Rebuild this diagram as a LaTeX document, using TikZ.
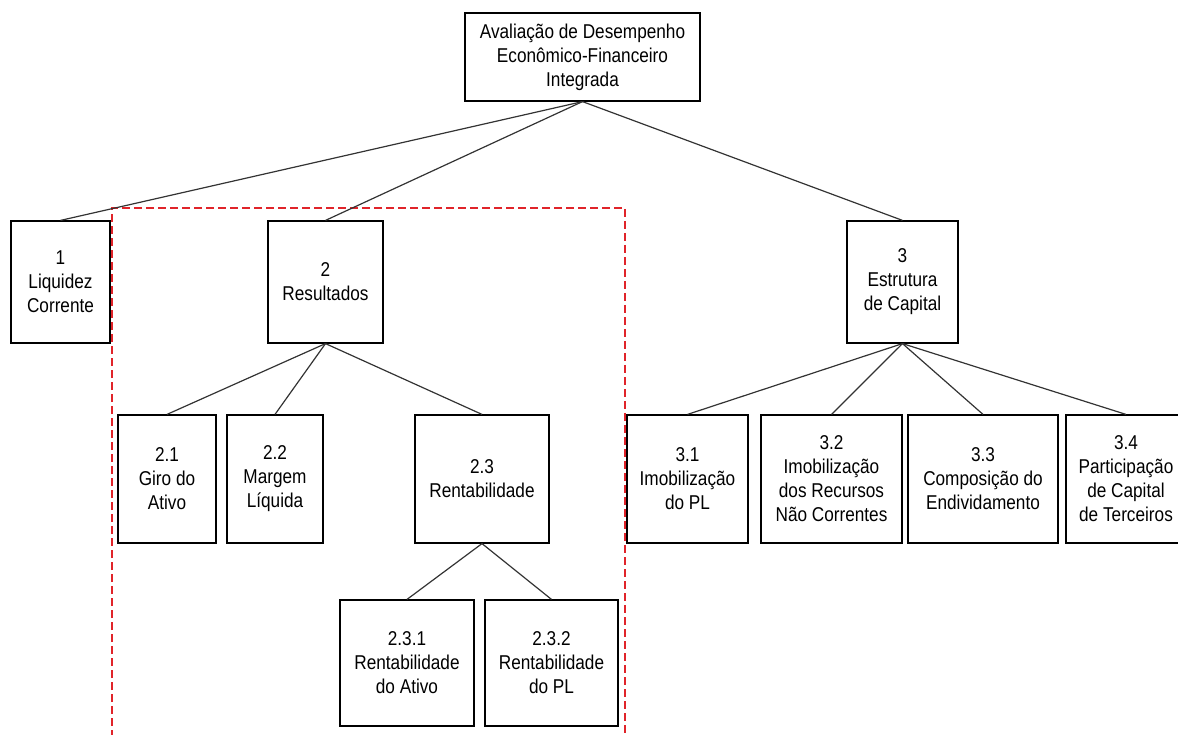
\documentclass[tikz,border=0pt]{standalone}
\usepackage{fontspec}
\setmainfont{Liberation Sans}[FakeStretch=0.86]
\usepackage{xcolor}
\definecolor{linegray}{HTML}{333333}
\definecolor{boxred}{HTML}{E0242A}
\tikzset{
  box/.style={draw,line width=1.2pt,inner sep=0pt,align=center,
    font=\fontsize{20}{24}\selectfont},
  link/.style={draw=linegray,line width=1.2pt}
}

\begin{document}
\begin{tikzpicture}[x=1pt,y=-1pt]
      \useasboundingbox (0,0) rectangle (1178,735);
      % region of the results branch
      \draw[boxred,line width=1.4pt,dash pattern=on 8pt off 4pt] (112,750) -- (112,208) -- (625,208) -- (625,750);
      \node[box,minimum width=235pt,minimum height=88pt] (top) at (582.5,57) {Avaliação de Desempenho\\Econômico-Financeiro\\Integrada};
      \node[box,minimum width=99pt,minimum height=122pt] (b1) at (60.5,282) {1\\Liquidez\\Corrente};
      \node[box,minimum width=115pt,minimum height=122pt] (b2) at (325.5,282) {2\\Resultados};
      \node[box,minimum width=111pt,minimum height=122pt] (b3) at (902.5,282) {3\\Estrutura\\de Capital};
      \node[box,minimum width=98pt,minimum height=128pt] (b21) at (167,479) {2.1\\Giro do\\Ativo};
      \node[box,minimum width=96pt,minimum height=128pt] (b22) at (275,479) {2.2\\Margem\\Líquida};
      \node[box,minimum width=134pt,minimum height=128pt] (b23) at (482,479) {2.3\\Rentabilidade};
      \node[box,minimum width=121pt,minimum height=128pt] (b31) at (687.5,479) {3.1\\Imobilização\\do PL};
      \node[box,minimum width=141pt,minimum height=128pt] (b32) at (831.5,479) {3.2\\Imobilização\\dos Recursos\\Não Correntes};
      \node[box,minimum width=150pt,minimum height=128pt] (b33) at (983,479) {3.3\\Composição do\\Endividamento};
      \node[box,minimum width=120pt,minimum height=128pt] (b34) at (1126,479) {3.4\\Participação\\de Capital\\de Terceiros};
      \node[box,minimum width=134pt,minimum height=126pt] (b231) at (407,663) {2.3.1\\Rentabilidade\\do Ativo};
      \node[box,minimum width=133pt,minimum height=126pt] (b232) at (551.5,663) {2.3.2\\Rentabilidade\\do PL};
      \path[link] (top.south) -- (b1.north);
      \path[link] (top.south) -- (b2.north);
      \path[link] (top.south) -- (b3.north);
      \path[link] (b2.south) -- (b21.north);
      \path[link] (b2.south) -- (b22.north);
      \path[link] (b2.south) -- (b23.north);
      \path[link] (b23.south) -- (b231.north);
      \path[link] (b23.south) -- (b232.north);
      \path[link] (b3.south) -- (b31.north);
      \path[link] (b3.south) -- (b32.north);
      \path[link] (b3.south) -- (b33.north);
      \path[link] (b3.south) -- (b34.north);
    \end{tikzpicture}
\end{document}
